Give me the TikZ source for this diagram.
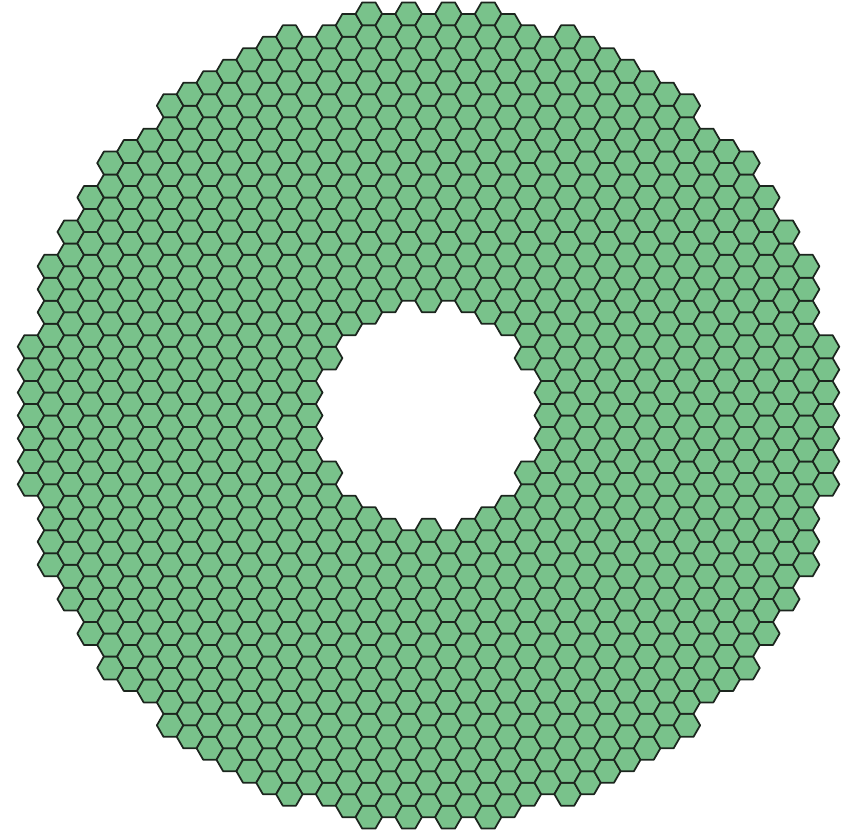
\documentclass[tikz,border=0pt]{standalone}
\definecolor{cellgreen}{RGB}{121,194,139}
\definecolor{celledge}{RGB}{28,38,30}
\begin{document}
\begin{tikzpicture}[scale=0.2,cell/.style={fill=cellgreen,draw=celledge,line width=0.75pt,line join=round}]
\useasboundingbox (-32.34,-31.36) rectangle (31.66,31.36);
% flat-top cells, kept between the hole and the rim
\foreach \k in {-20,...,20}{
  \foreach \n in {-18,...,18}{
    \pgfmathsetmacro{\x}{1.5*\k}
    \pgfmathsetmacro{\y}{sqrt(3)*(\n+0.5*isodd(\k))}
    \pgfmathsetmacro{\dd}{\x*\x+\y*\y}
    \ifdim \dd pt>68.9pt \ifdim \dd pt<943.5pt
      \draw[cell] (\x,\y) +(0:1) -- +(60:1) -- +(120:1) -- +(180:1) -- +(240:1) -- +(300:1) -- cycle;
    \fi\fi
  }
}
\end{tikzpicture}
\end{document}
